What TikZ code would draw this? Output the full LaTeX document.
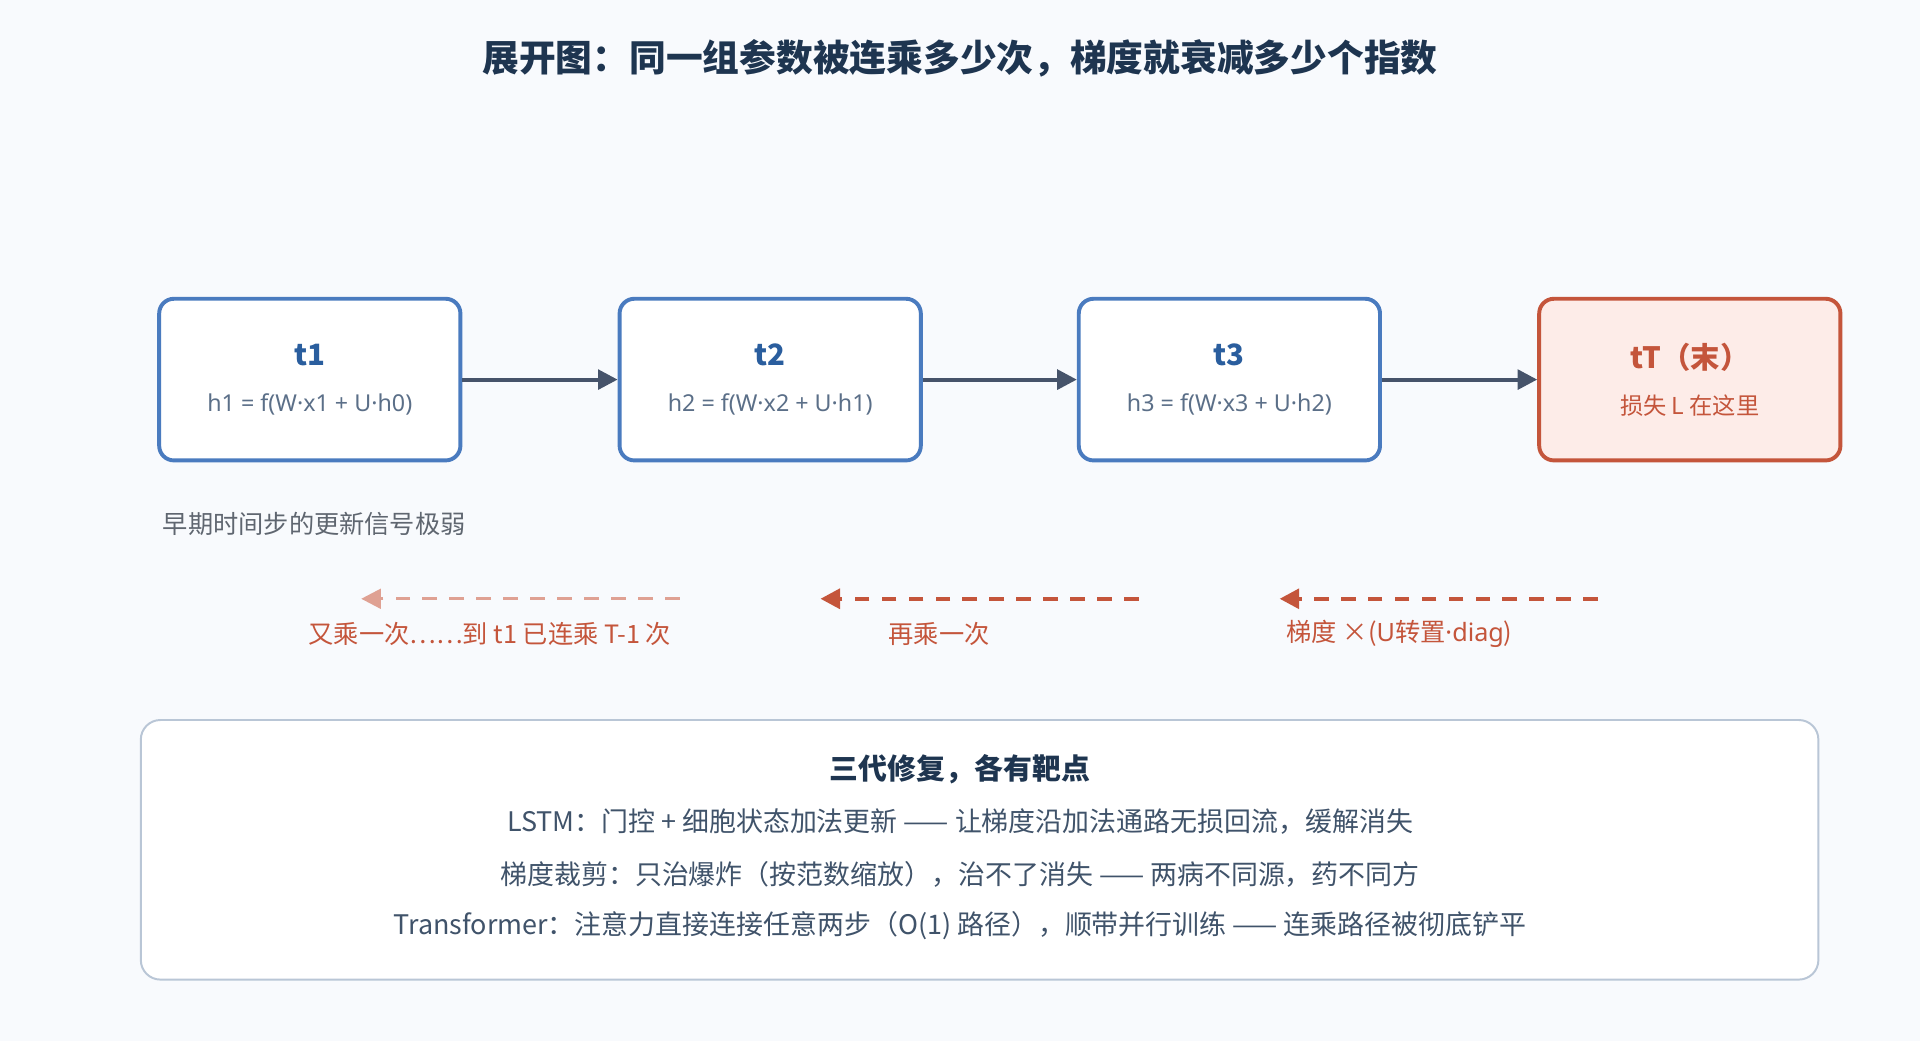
\documentclass[tikz,border=0pt]{standalone}
\usepackage{fontspec}
\setmainfont{Noto Sans CJK SC}
\newfontfamily\lat{Noto Sans}
\usetikzlibrary{positioning,arrows.meta}
\definecolor{bgc}{HTML}{F8FAFD}
\definecolor{boxblue}{HTML}{4A7BBF}
\definecolor{titlec}{HTML}{1E3550}
\definecolor{labblue}{HTML}{2A5E9E}
\definecolor{formc}{HTML}{5B6F88}
\definecolor{redc}{HTML}{C4553B}
\definecolor{redfill}{HTML}{FDECE8}
\definecolor{arrc}{HTML}{46536A}
\definecolor{greyc}{HTML}{5F6670}
\definecolor{panelc}{HTML}{B9C6D6}
\begin{document}
\begin{tikzpicture}[x=0.5pt,y=-0.5pt,
          tstep/.style={draw=boxblue,line width=1.6pt,rounded corners=6pt,fill=white,
            minimum width=123pt,minimum height=66pt,align=center,text=formc,font=\fontsize{9.5}{19}\selectfont},
          tlast/.style={tstep,draw=redc,fill=redfill,text=redc},
          fwd/.style={draw=arrc,line width=1.6pt,-{Triangle[length=8pt,width=8pt]}},
          back/.style={draw=redc,line width=1.8pt,dash pattern=on 6pt off 5pt,-{Triangle[length=8pt,width=8pt]}},
          note/.style={text=redc,font=\fontsize{10.3}{12}\selectfont},
          fixline/.style={text=titlec!85,font=\fontsize{11}{13}\selectfont}
        ]
        \fill[bgc] (0,0) rectangle (1568,850);
        \node[text=titlec,font=\bfseries\fontsize{15}{17}\selectfont] (title) at (784,48)
          {展开图：同一组参数被连乘多少次，梯度就衰减多少个指数};
        % unrolled steps
        \node[tstep] (s1) at (253,310) {\textcolor{labblue}{\bfseries\fontsize{12}{14}\selectfont t1}\\{\lat h1 = f(W·x1 + U·h0)}};
        \node[tstep] (s2) at (629,310) {\textcolor{labblue}{\bfseries\fontsize{12}{14}\selectfont t2}\\{\lat h2 = f(W·x2 + U·h1)}};
        \node[tstep] (s3) at (1004,310) {\textcolor{labblue}{\bfseries\fontsize{12}{14}\selectfont t3}\\{\lat h3 = f(W·x3 + U·h2)}};
        \node[tlast] (sT) at (1380,310) {{\bfseries\fontsize{12}{14}\selectfont tT（末）}\\损失 L 在这里};
        \draw[fwd] (s1) -- (s2);
        \draw[fwd] (s2) -- (s3);
        \draw[fwd] (s3) -- (sT);
        \node[anchor=west,text=greyc,font=\fontsize{10.3}{12}\selectfont] (weak) at (126,428) {早期时间步的更新信号极弱};
        % gradient flowing back
        \coordinate (a1) at (555,489); \coordinate (b1) at (295,489);
        \coordinate (a2) at (930,489); \coordinate (b2) at (670,489);
        \coordinate (a3) at (1305,489); \coordinate (b3) at (1045,489);
        \draw[back,draw=redc!55,line width=1.2pt] (a1) -- (b1);
        \draw[back] (a2) -- (b2);
        \draw[back] (a3) -- (b3);
        \node[note] (n1) at (400,518) {又乘一次……到 t1 已连乘 T-1 次};
        \node[note] (n2) at (767,518) {再乘一次};
        \node[note] (n3) at (1143,518) {梯度 ×({\lat U}转置{\lat ·diag})};
        % fixes panel
        \node[draw=panelc,line width=0.8pt,rounded corners=8pt,fill=white,
          minimum width=685pt,minimum height=106pt] (panel) at (800,694) {};
        \node[text=titlec,font=\bfseries\fontsize{11.8}{14}\selectfont] (ptitle) at (784,628) {三代修复，各有靶点};
        \node[fixline] (l1) at (784,671) {LSTM：门控 + 细胞状态加法更新 —— 让梯度沿加法通路无损回流，缓解消失};
        \node[fixline] (l2) at (784,714) {梯度裁剪：只治爆炸（按范数缩放），治不了消失 —— 两病不同源，药不同方};
        \node[fixline] (l3) at (784,756) {Transformer：注意力直接连接任意两步（O(1) 路径），顺带并行训练 —— 连乘路径被彻底铲平};
\end{tikzpicture}
\end{document}
